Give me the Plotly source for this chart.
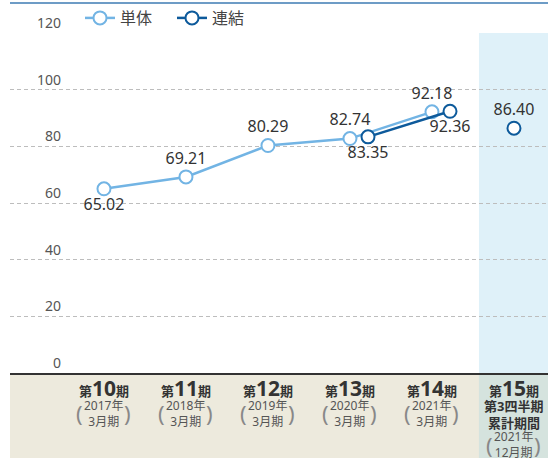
import plotly.graph_objects as go

# ---- data ----
period_nums = ["10", "11", "12", "13", "14", "15"]
period_years = ["2017年", "2018年", "2019年", "2020年", "2021年", "2021年"]
period_months = ["3月期", "3月期", "3月期", "3月期", "3月期", "12月期"]
single_vals = [65.02, 69.21, 80.29, 82.74, 92.18]
consol_vals = [83.35, 92.36]
consol_idx = [3, 4]
q3_val = 86.40
q3_idx = 5
y_ticks = [0, 20, 40, 60, 80, 100, 120]

# ---- style ----
C_SINGLE = "#72b4e4"
C_CONSOL = "#0d5a9b"
TXT = "#333333"
FONT = "Noto Sans, Noto Sans CJK JP, sans-serif"
DODGE = 0.22  # horizontal dodge of consolidated markers vs single
XR = [-1.146, 5.415]
SHADE_X0 = 4.573
PLOT_H = 340.0

single_x = list(range(len(single_vals)))
consol_x = [i + DODGE for i in consol_idx]

fig = go.Figure()
fig.add_trace(go.Scatter(
    x=single_x, y=single_vals, mode="lines+markers+text", name="単体",
    line=dict(color=C_SINGLE, width=2.5),
    marker=dict(size=13, color="white", line=dict(color=C_SINGLE, width=2)),
    text=[f"{v:.2f}" for v in single_vals],
    textposition=["bottom center", "top center", "top center", "top center", "top center"],
    textfont=dict(size=16, color=TXT, family=FONT),
    cliponaxis=False,
))
fig.add_trace(go.Scatter(
    x=consol_x, y=consol_vals, mode="lines+markers+text", name="連結",
    line=dict(color=C_CONSOL, width=2.5),
    marker=dict(size=13, color="white", line=dict(color=C_CONSOL, width=2)),
    text=[f"{v:.2f}" for v in consol_vals],
    textposition=["bottom center", "bottom center"],
    textfont=dict(size=16, color=TXT, family=FONT),
    cliponaxis=False,
))
fig.add_trace(go.Scatter(
    x=[q3_idx], y=[q3_val], mode="markers+text", showlegend=False,
    marker=dict(size=13, color="white", line=dict(color=C_CONSOL, width=2)),
    text=[f"{q3_val:.2f}"], textposition="top center",
    textfont=dict(size=16, color=TXT, family=FONT),
    cliponaxis=False,
))

shapes = [
    dict(type="rect", xref="paper", yref="paper", x0=0, x1=1, y0=-85 / PLOT_H, y1=0,
         fillcolor="#edeadd", line=dict(width=0), layer="below"),
    dict(type="rect", xref="x", yref="paper", x0=SHADE_X0, x1=XR[1], y0=-85 / PLOT_H, y1=0,
         fillcolor="#d5e3de", line=dict(width=0), layer="below"),
    dict(type="rect", xref="x", yref="paper", x0=SHADE_X0, x1=XR[1], y0=0, y1=1,
         fillcolor="#dff1f9", line=dict(width=0), layer="below"),
    dict(type="line", xref="paper", yref="paper", x0=0, x1=1, y0=1 + 30 / PLOT_H, y1=1 + 30 / PLOT_H,
         line=dict(color="#6d9cc6", width=2)),
]

ann = []
for t in y_ticks:
    ann.append(dict(x=(63 - 10) / 538, xref="paper", y=t, yref="y", text=str(t),
                    xanchor="right", yanchor="bottom", showarrow=False, yshift=-1,
                    font=dict(size=14, color="#555555", family=FONT)))

def py(pix):
    return -(pix - 373) / PLOT_H

for i, n in enumerate(period_nums):
    ann.append(dict(x=i, xref="x", y=py(388), yref="paper", showarrow=False,
                    xanchor="center", yanchor="middle",
                    text=f"<b>第<span style='font-size:21px'>{n}</span>期</b>",
                    font=dict(size=13, color=TXT, family=FONT)))
    if i < 5:
        cy = 413
    else:
        ann.append(dict(x=i, xref="x", y=py(406), yref="paper", showarrow=False,
                        xanchor="center", yanchor="middle", text="<b>第3四半期</b>",
                        font=dict(size=13, color=TXT, family=FONT)))
        ann.append(dict(x=i, xref="x", y=py(423), yref="paper", showarrow=False,
                        xanchor="center", yanchor="middle", text="<b>累計期間</b>",
                        font=dict(size=13, color=TXT, family=FONT)))
        cy = 445
    ann.append(dict(x=i, xref="x", y=py(cy), yref="paper", showarrow=False,
                    xanchor="center", yanchor="middle",
                    text=f"{period_years[i]}<br>{period_months[i]}",
                    font=dict(size=12, color="#555555", family=FONT)))
    for ch, sh in (("(", -24), (")", 24)):
        ann.append(dict(x=i, xref="x", y=py(cy), yref="paper", showarrow=False,
                        xanchor="center", yanchor="middle", xshift=sh, text=ch,
                        font=dict(size=22, color="#888888", family=FONT)))

fig.update_layout(
    width=554, height=458,
    margin=dict(l=10, r=6, t=33, b=85, autoexpand=False),
    paper_bgcolor="white", plot_bgcolor="rgba(0,0,0,0)",
    font=dict(family=FONT, color=TXT),
    shapes=shapes, annotations=ann,
    legend=dict(orientation="h", x=(80 - 10) / 538, y=1 + 15 / PLOT_H, xanchor="left", yanchor="middle",
                font=dict(size=16, color="#444444", family=FONT), bgcolor="rgba(0,0,0,0)",
                itemwidth=30, entrywidth=47, tracegroupgap=0),
    showlegend=True,
)
fig.update_xaxes(range=XR, showgrid=False, zeroline=False, showticklabels=False,
                 showline=True, linecolor="#333333", linewidth=2, ticks="", fixedrange=True)
fig.update_yaxes(range=[0, 120], showgrid=True, gridcolor="#bdbdbd", gridwidth=1.3,
                 griddash="4px,3px", zeroline=False, showticklabels=False, tickvals=y_ticks,
                 ticks="", fixedrange=True)

fig.write_html("out.html", config={"displayModeBar": False},
               post_script="document.body.style.margin='0';")
